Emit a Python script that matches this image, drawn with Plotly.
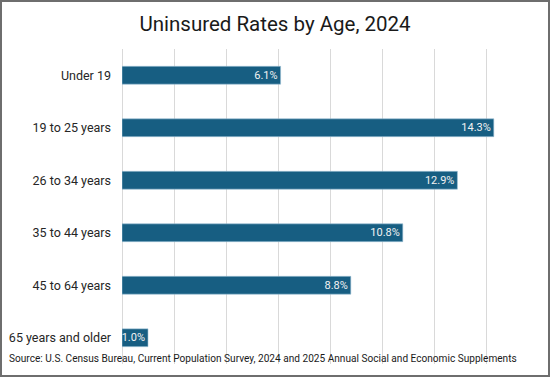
import plotly.graph_objects as go

categories = ["Under 19", "19 to 25 years", "26 to 34 years", "35 to 44 years", "45 to 64 years", "65 years and older"]
values = [6.1, 14.3, 12.9, 10.8, 8.8, 1.0]
labels = [f"{v:.1f}%" for v in values]
title = "Uninsured Rates by Age, 2024"
source = "Source: U.S. Census Bureau, Current Population Survey, 2024 and 2025 Annual Social and Economic Supplements"

FONT = "Roboto"
W, H = 550, 377
L, R, T, B = 122, 12, 49, 13
PW, PH = W - L - R, H - T - B

fig = go.Figure(go.Bar(
    y=categories, x=values, orientation="h",
    marker=dict(color="#175E82", line=dict(color="#9fc3d6", width=0.6)),
    width=0.34,
    text=labels, textposition="inside", insidetextanchor="end",
    textfont=dict(color="#f2f2f2", size=11, family=FONT),
    cliponaxis=False,
))

fig.update_layout(
    width=W, height=H,
    margin=dict(l=L, r=R, t=T, b=B, autoexpand=False),
    paper_bgcolor="white", plot_bgcolor="white",
    showlegend=False,
    uniformtext=dict(minsize=11, mode="show"),
    title=dict(text=title, x=0.5, xanchor="center", y=1 - 24 / H, yanchor="middle",
               font=dict(size=20.5, color="#1a1a1a", family=FONT)),
    xaxis=dict(range=[0, 16], dtick=2, showgrid=True, gridcolor="#d9d9d9", gridwidth=1,
               showticklabels=False, zeroline=True, zerolinecolor="#d9d9d9", zerolinewidth=1,
               fixedrange=True, automargin=False),
    yaxis=dict(categoryorder="array", categoryarray=categories[::-1], autorange=False,
               range=[-0.5, len(categories) - 0.5], automargin=False,
               tickfont=dict(size=12.5, color="#262626", family=FONT),
               ticks="", ticklabelstandoff=10, showgrid=False),
    shapes=[dict(type="rect", xref="paper", yref="paper",
                 x0=(-L + 1) / PW, x1=(PW + R - 1) / PW,
                 y0=(-B + 1) / PH, y1=(PH + T - 1) / PH,
                 line=dict(color="#6e6e6e", width=2), layer="above")],
    annotations=[dict(text=source, xref="paper", yref="paper", x=(-L + 7) / PW, xanchor="left",
                      y=1 - (358 - T) / PH, yanchor="middle", showarrow=False,
                      font=dict(size=10.1, color="#1a1a1a", family=FONT))],
)
fig.write_html("out.html", config={"displayModeBar": False},
               post_script="document.body.style.margin='0';document.body.style.overflow='hidden';")
